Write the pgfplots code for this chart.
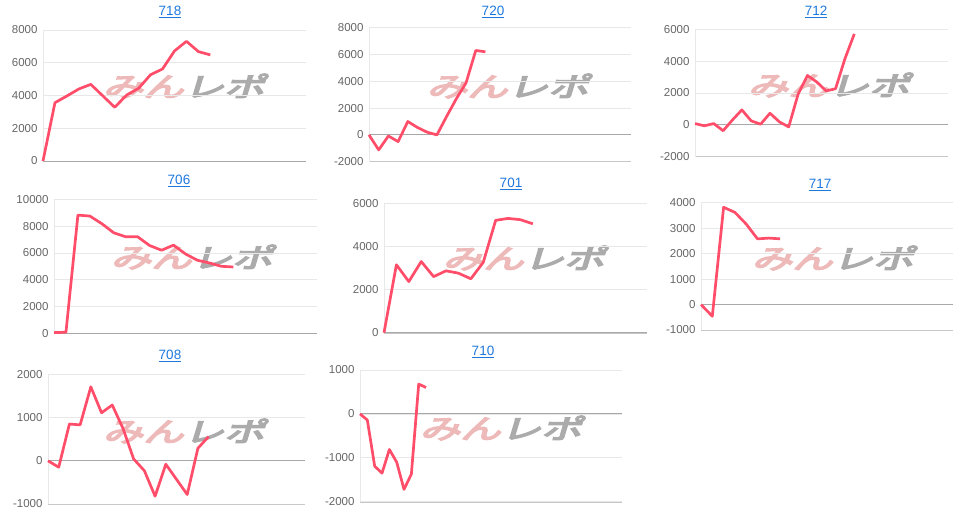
\documentclass[border=0pt]{standalone}
\usepackage{fontspec}
\setmainfont{Liberation Sans}
\newfontfamily\jp[FakeBold=5]{Noto Sans CJK JP}
\usepackage{pgfplots}
\pgfplotsset{compat=1.18}
\definecolor{linered}{HTML}{FF4D6A}
\definecolor{titleblue}{HTML}{1E78DC}
\definecolor{wmpink}{HTML}{EDB9B9}
\definecolor{wmgray}{HTML}{ABABAB}
\definecolor{gridgray}{HTML}{E8E8E8}
\definecolor{zerogray}{HTML}{A8A8A8}
\definecolor{ticktext}{HTML}{666666}

\pgfplotsset{panel/.style={
  scale only axis, anchor=south west, xmin=0,
  axis x line*=bottom, axis y line*=left,
  x axis line style={draw=black!22,-}, y axis line style={draw=gridgray,-},
  xtick=\empty, major tick length=0pt,
  ymajorgrids, major grid style={draw=gridgray, line width=0.8pt},
  extra y ticks={0}, extra y tick labels={},
  extra y tick style={major grid style={draw=zerogray, line width=0.9pt}},
  scaled y ticks=false,
  /pgf/number format/1000 sep={}, /pgf/number format/assume math mode=true,
  yticklabel style={font=\fontsize{11.5}{13}\selectfont, text=ticktext, xshift=-2pt},
  every axis plot/.append style={line width=2.7pt, line join=round},
  cycle list={{linered, mark=none}},
  clip=false,
}}
\tikzset{
  ttl/.style={text=titleblue, font=\fontsize{13.5}{15}\selectfont},
  wm/.style={font=\jp\fontsize{27}{29}\selectfont, xslant=0.3, xscale=1.5, transform shape, inner sep=0pt},
}
\newcommand{\wmark}{{\color{wmpink}みん}{\color{wmgray}レポ}}

\begin{document}
\begin{tikzpicture}
\path (0pt,0pt) rectangle (963pt,-511pt);

% watermarks
\foreach \p in {(187pt,-86pt),(511pt,-86pt),(832pt,-85pt),(195pt,-257pt),(527pt,-258pt),(836pt,-258pt),(187pt,-431pt),(504pt,-428pt)}
  \node[wm] at \p {\wmark};

% titles
\node[ttl] at (170pt,-12pt) {\underline{718}};
\node[ttl] at (493pt,-12pt) {\underline{720}};
\node[ttl] at (816pt,-12pt) {\underline{712}};
\node[ttl] at (179pt,-181pt) {\underline{706}};
\node[ttl] at (511pt,-184pt) {\underline{701}};
\node[ttl] at (820pt,-185pt) {\underline{717}};
\node[ttl] at (170pt,-356pt) {\underline{708}};
\node[ttl] at (483pt,-352pt) {\underline{710}};

% 718
\begin{axis}[panel, at={(43pt,-161pt)}, width=263pt, height=131pt, xmax=22,
  ymin=0, ymax=8000, ytick={0,2000,...,8000}]
\addplot coordinates {(0,0) (1,3560) (2,3970) (3,4400) (4,4680) (5,3980) (6,3280) (7,4030) (8,4440) (9,5270) (10,5620) (11,6720) (12,7310) (13,6680) (14,6480)};
\end{axis}

% 720
\begin{axis}[panel, at={(369pt,-161.7pt)}, width=262pt, height=134pt, xmax=27,
  ymin=-2000, ymax=8000, ytick={-2000,0,...,8000}]
\addplot coordinates {(0,0) (1,-1120) (2,-80) (3,-500) (4,1000) (5,550) (6,200) (7,0) (8,1380) (9,2700) (10,3880) (11,6300) (12,6200)};
\end{axis}

% 712
\begin{axis}[panel, at={(695pt,-156.7pt)}, width=253pt, height=127.4pt, xmax=27,
  ymin=-2000, ymax=6000, ytick={-2000,0,...,6000}]
\addplot coordinates {(0,80) (1,-60) (2,80) (3,-370) (4,310) (5,940) (6,250) (7,40) (8,730) (9,190) (10,-130) (11,1920) (12,3100) (13,2690) (14,2130) (15,2270) (16,4150) (17,5710)};
\end{axis}

% 706
\begin{axis}[panel, at={(54pt,-333.3pt)}, width=263pt, height=134pt, xmax=22,
  ymin=0, ymax=10000, ytick={0,2000,...,10000}]
\addplot coordinates {(0,50) (1,80) (2,8820) (3,8750) (4,8180) (5,7500) (6,7200) (7,7200) (8,6550) (9,6200) (10,6580) (11,5920) (12,5450) (13,5250) (14,5000) (15,4950)};
\end{axis}

% 701
\begin{axis}[panel, at={(384pt,-332.7pt)}, width=263pt, height=129.4pt, xmax=21.2,
  ymin=0, ymax=6000, ytick={0,2000,...,6000}]
\addplot coordinates {(0,0) (1,3150) (2,2370) (3,3300) (4,2600) (5,2870) (6,2760) (7,2500) (8,3260) (9,5210) (10,5300) (11,5240) (12,5050)};
\end{axis}

% 717
\begin{axis}[panel, at={(701pt,-330pt)}, width=252pt, height=127.3pt, xmax=22.3,
  ymin=-1000, ymax=4000, ytick={-1000,0,...,4000}]
\addplot coordinates {(0,0) (1,-460) (2,3820) (3,3620) (4,3160) (5,2580) (6,2610) (7,2580)};
\end{axis}

% 708
\begin{axis}[panel, at={(48pt,-504pt)}, width=257pt, height=129.7pt, xmax=24,
  ymin=-1000, ymax=2000, ytick={-1000,0,...,2000}]
\addplot coordinates {(0,0) (1,-150) (2,850) (3,830) (4,1710) (5,1110) (6,1290) (7,750) (8,40) (9,-230) (10,-820) (11,-80) (12,-430) (13,-780) (14,290) (15,560)};
\end{axis}

% 710
\begin{axis}[panel, at={(360pt,-501.7pt)}, width=262pt, height=131.7pt, xmax=35.7,
  ymin=-2000, ymax=1000, ytick={-2000,-1000,...,1000}]
\addplot coordinates {(0,0) (1,-140) (2,-1190) (3,-1350) (4,-810) (5,-1100) (6,-1720) (7,-1370) (8,680) (9,600)};
\end{axis}
\end{tikzpicture}
\end{document}
